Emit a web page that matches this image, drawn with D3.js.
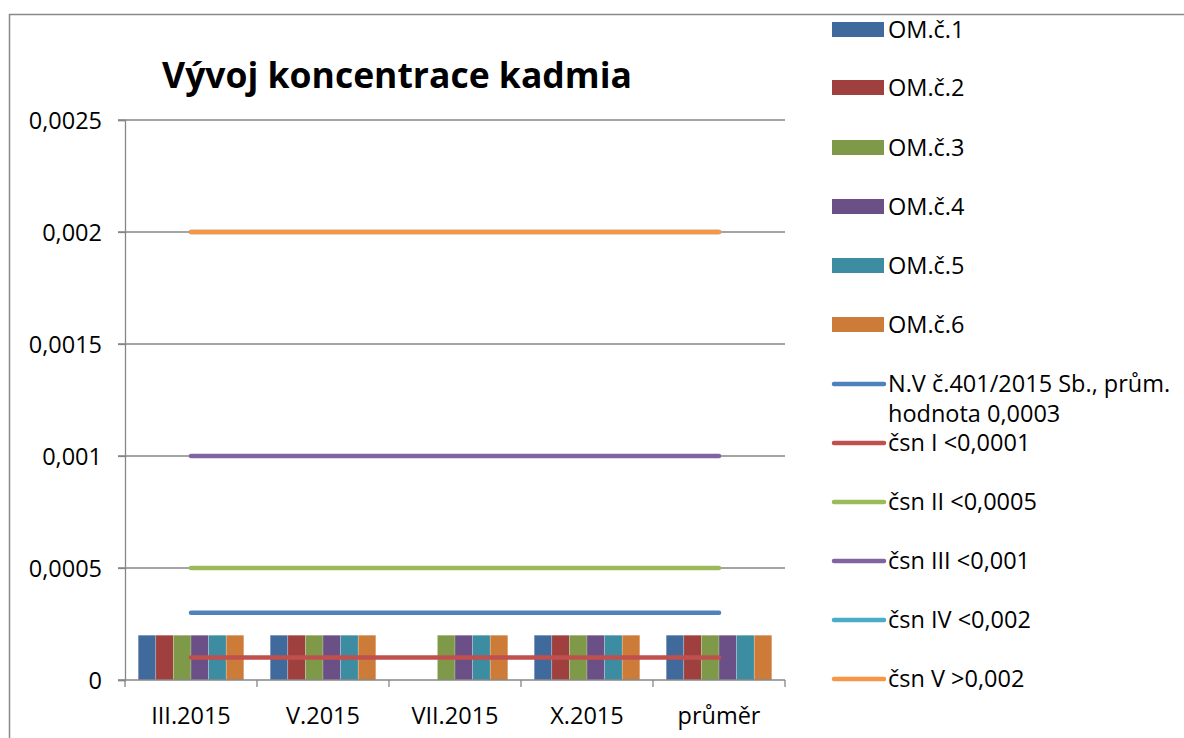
<!DOCTYPE html>
<html>
<head>
<meta charset="utf-8">
<script src="https://cdn.jsdelivr.net/npm/d3@7"></script>
<style>
  body { margin: 0; background: #fff; }
  svg text { font-family: "Open Sans", sans-serif; fill: #000; }
</style>
</head>
<body>
<svg id="chart" width="1184" height="738"></svg>
<script>
// categories (x axis)
const categories = ["III.2015", "V.2015", "VII.2015", "X.2015", "průměr"];

// bar series: sampling points OM.č.1 - 6
const barNames = ["OM.č.1", "OM.č.2", "OM.č.3", "OM.č.4", "OM.č.5", "OM.č.6"];
const om1 = [0.0002, 0.0002, null, 0.0002, 0.0002];
const om2 = [0.0002, 0.0002, null, 0.0002, 0.0002];
const om3 = [0.0002, 0.0002, 0.0002, 0.0002, 0.0002];
const om4 = [0.0002, 0.0002, 0.0002, 0.0002, 0.0002];
const om5 = [0.0002, 0.0002, 0.0002, 0.0002, 0.0002];
const om6 = [0.0002, 0.0002, 0.0002, 0.0002, 0.0002];
const barColors = ["#416A9C", "#A0403E", "#7E9A48", "#6A5086", "#3D8DA2", "#CC7B38"];

// limit lines
const lineNames = ["N.V č.401/2015 Sb., prům. hodnota 0,0003", "čsn I <0,0001", "čsn II <0,0005",
  "čsn III <0,001", "čsn IV <0,002", "čsn V >0,002"];
const nv = [0.0003, 0.0003, 0.0003, 0.0003, 0.0003];
const csn1 = [0.0001, 0.0001, 0.0001, 0.0001, 0.0001];
const csn2 = [0.0005, 0.0005, 0.0005, 0.0005, 0.0005];
const csn3 = [0.001, 0.001, 0.001, 0.001, 0.001];
const csn4 = [0.002, 0.002, 0.002, 0.002, 0.002];
const csn5 = [0.002, 0.002, 0.002, 0.002, 0.002];
const lineColors = ["#4F81BD", "#C0504D", "#9BBB59", "#8064A2", "#4BACC6", "#F79646"];

const yTicks = [0, 0.0005, 0.001, 0.0015, 0.002, 0.0025];
const title = "Vývoj koncentrace kadmia";

const barSeries = [om1, om2, om3, om4, om5, om6].map((v, i) => ({ name: barNames[i], values: v, color: barColors[i] }));
const lineSeries = [nv, csn1, csn2, csn3, csn4, csn5].map((v, i) => ({ name: lineNames[i], values: v, color: lineColors[i] }));

const svg = d3.select("#chart");
const fmt = d => d === 0 ? "0" : String(d).replace(".", ",");

// outer chart frame
svg.append("rect")
  .attr("x", 9.5).attr("y", 14.5)
  .attr("width", 1300).attr("height", 900)
  .attr("fill", "none").attr("stroke", "#888").attr("stroke-width", 1.5);

const x0 = 125, x1 = 785, yTop = 120, yBot = 680;

const x = d3.scaleBand().domain(categories).range([x0, x1]);
const xInner = d3.scaleBand().domain(barNames).range([0, x.bandwidth()]).paddingOuter(0.75).paddingInner(0);
const y = d3.scaleLinear().domain([0, 0.0025]).range([yBot, yTop]);

// gridlines
svg.append("g")
  .selectAll("line")
  .data(yTicks.filter(d => d > 0))
  .join("line")
  .attr("x1", x0 - 7).attr("x2", x1)
  .attr("y1", d => y(d)).attr("y2", d => y(d))
  .attr("stroke", "#868686").attr("stroke-width", 1.3);

// y axis
const yAxis = svg.append("g")
  .attr("transform", `translate(${x0},0)`)
  .call(d3.axisLeft(y).tickValues(yTicks).tickFormat(fmt).tickSize(7).tickPadding(16));
yAxis.select(".domain").attr("stroke", "#868686").attr("stroke-width", 1.3);
yAxis.selectAll(".tick line").attr("stroke", "#868686").attr("stroke-width", 1.3);
yAxis.selectAll("text").style("font-size", "23.5px").attr("dy", "0.35em");

// bars
svg.append("g")
  .selectAll("g")
  .data(barSeries)
  .join("g")
  .attr("fill", d => d.color)
  .selectAll("rect")
  .data(d => d.values.map((v, i) => ({ name: d.name, cat: categories[i], v })).filter(e => e.v != null))
  .join("rect")
  .attr("x", d => x(d.cat) + xInner(d.name))
  .attr("width", xInner.bandwidth())
  .attr("y", d => y(d.v))
  .attr("height", d => y(0) - y(d.v))
  .attr("stroke", "#fff").attr("stroke-opacity", 0.35).attr("stroke-width", 0.6);

// x axis
const xAxis = svg.append("g")
  .attr("transform", `translate(0,${yBot})`);
xAxis.append("line")
  .attr("x1", x0 - 7).attr("x2", x1)
  .attr("stroke", "#868686").attr("stroke-width", 1.3);
xAxis.selectAll(".tk")
  .data(categories.concat(["end"]))
  .join("line")
  .attr("class", "tk")
  .attr("x1", (d, i) => x0 + i * x.step()).attr("x2", (d, i) => x0 + i * x.step())
  .attr("y1", 0).attr("y2", 7)
  .attr("stroke", "#868686").attr("stroke-width", 1.3);
xAxis.selectAll(".lbl")
  .data(categories)
  .join("text")
  .attr("class", "lbl")
  .attr("x", d => x(d) + x.bandwidth() / 2)
  .attr("y", 44)
  .attr("text-anchor", "middle")
  .style("font-size", "23.5px")
  .text(d => d);

// limit lines
const line = d3.line()
  .x((d, i) => x(categories[i]) + x.bandwidth() / 2)
  .y(d => y(d));
svg.append("g")
  .attr("fill", "none")
  .attr("stroke-width", 4.5)
  .attr("stroke-linecap", "round")
  .selectAll("path")
  .data(lineSeries)
  .join("path")
  .attr("stroke", d => d.color)
  .attr("d", d => line(d.values));

// title
svg.append("text")
  .attr("x", 397).attr("y", 88)
  .attr("text-anchor", "middle")
  .style("font-size", "35.5px").style("font-weight", "bold")
  .text(title);

// legend
const legend = svg.append("g").attr("transform", "translate(832,0)");
const legendY = [30, 88, 148, 207, 266, 325, 384, 443, 502, 561, 620, 679];
const items = barSeries.map(d => ({ ...d, type: "bar" })).concat(lineSeries.map(d => ({ ...d, type: "line" })));
const li = legend.selectAll("g")
  .data(items)
  .join("g")
  .attr("transform", (d, i) => `translate(0,${legendY[i]})`);
li.filter(d => d.type === "bar").append("rect")
  .attr("x", 0).attr("y", -8).attr("width", 52).attr("height", 15)
  .attr("fill", d => d.color);
li.filter(d => d.type === "line").append("line")
  .attr("x1", 2).attr("x2", 52).attr("y1", 0).attr("y2", 0)
  .attr("stroke", d => d.color).attr("stroke-width", 4.5).attr("stroke-linecap", "round");
li.append("text")
  .attr("x", 56).attr("dy", "0.35em")
  .style("font-size", "23.5px")
  .each(function (d) {
    const t = d3.select(this);
    if (d.name.startsWith("N.V")) {
      t.append("tspan").attr("x", 56).text("N.V č.401/2015 Sb., prům.");
      t.append("tspan").attr("x", 56).attr("dy", 30).text("hodnota 0,0003");
    } else {
      t.text(d.name);
    }
  });
</script>
</body>
</html>
